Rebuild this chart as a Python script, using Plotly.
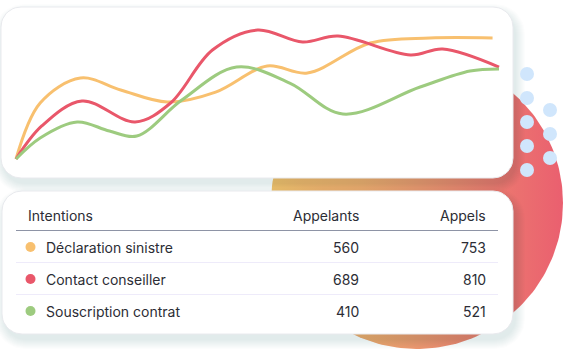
import numpy as np
import plotly.graph_objects as go

W, H = 565, 350

# ---------------- data ----------------
series_names = ["Déclaration sinistre", "Contact conseiller", "Souscription contrat"]
series_colors = ["#F8C06F", "#E9576A", "#9DCB7F"]

decl_x = [0, 1.5, 4.0, 6.5, 9.4, 12.4, 15.6, 18.1, 22.0, 25.7, 29.6]
decl_y = [0, 43.4, 62.8, 53.5, 44.2, 51.9, 72.1, 66.7, 89.9, 93.8, 93.8]
cont_x = [0, 1.6, 4.1, 7.4, 9.6, 12.2, 15.0, 17.8, 20.0, 24.5, 26.5, 30]
cont_y = [0, 25.6, 45.0, 28.7, 43.4, 84.5, 100, 90.7, 95.3, 80.6, 85.3, 71.3]
sous_x = [0, 1.5, 3.8, 5.8, 7.5, 10.3, 13.7, 17.0, 20.3, 25.1, 28.2, 30]
sous_y = [0, 16.3, 28.7, 21.7, 17.8, 45.7, 71.3, 58.9, 34.9, 55.8, 68.2, 69.8]

table_headers = ["Intentions", "Appelants", "Appels"]
appelants = [560, 689, 410]
appels = [753, 810, 521]

# ---------------- helpers ----------------
def rounded_rect(x0, y0, x1, y1, r, n=12):
    xs, ys = [], []
    corners = [(x1 - r, y0 + r, -90, 0), (x1 - r, y1 - r, 0, 90),
               (x0 + r, y1 - r, 90, 180), (x0 + r, y0 + r, 180, 270)]
    for cx, cy, a0, a1 in corners:
        for t in np.linspace(np.radians(a0), np.radians(a1), n):
            xs.append(cx + r * np.cos(t))
            ys.append(cy + r * np.sin(t))
    xs.append(xs[0]); ys.append(ys[0])
    return xs, ys

fig = go.Figure()

# background circle with gradient
t = np.linspace(0, 2 * np.pi, 240)
ccx, ccy, cr = 417, 203, 146
fig.add_trace(go.Scatter(
    x=ccx + cr * np.cos(t), y=ccy + cr * np.sin(t), fill="toself", mode="lines",
    line=dict(width=0), hoverinfo="skip", zorder=0,
    fillgradient=dict(type="horizontal",
                      colorscale=[[0, "#F6C66E"], [0.5, "#EE9770"], [1, "#EA5F6F"]]),
))

# decorative dots
dots_x = [527, 527, 527, 527, 527, 550, 550, 550]
dots_y = [74, 98, 122, 146, 170, 110, 134, 158]
fig.add_trace(go.Scatter(x=dots_x, y=dots_y, mode="markers",
                         marker=dict(size=14, color="#D0E6FC", line=dict(width=0)),
                         hoverinfo="skip", zorder=5))

# cards (shadow + white body)
cards = [(1, 7, 513, 178), (2, 191, 513, 334)]
for (x0, y0, x1, y1) in cards:
    for k in range(1, 11):
        sx, sy = rounded_rect(x0 - k + 3, y0 - k + 7, x1 + k + 2, y1 + k + 5, 20 + k)
        fig.add_trace(go.Scatter(x=sx, y=sy, fill="toself", mode="lines",
                                 line=dict(width=0), fillcolor="rgba(40,50,100,0.011)",
                                 hoverinfo="skip", zorder=1))
for (x0, y0, x1, y1) in cards:
    bx, by = rounded_rect(x0, y0, x1, y1, 20)
    fig.add_trace(go.Scatter(x=bx, y=by, fill="toself", mode="lines",
                             line=dict(width=1, color="#E9EAEE"), fillcolor="white",
                             hoverinfo="skip", zorder=2))

# line chart on its own axes
for xs, ys, name, col in zip([decl_x, cont_x, sous_x], [decl_y, cont_y, sous_y],
                             series_names, series_colors):
    fig.add_trace(go.Scatter(x=xs, y=ys, mode="lines", name=name,
                             line=dict(color=col, width=3, shape="spline", smoothing=1.0),
                             xaxis="x2", yaxis="y2", hoverinfo="skip", zorder=10))

# chart mapping: x value 0 -> px 16, 30 -> px 499 ; y value 0 -> py 159, 100 -> py 30
px0, px1, pv0, pv1 = 16, 499, 0, 30
py0, py1, yv0, yv1 = 159, 30, 0, 100
dom_px = (8, 507)
dom_py = (18, 172)
sx_ = (pv1 - pv0) / (px1 - px0)
sy_ = (yv1 - yv0) / (py0 - py1)
xr = [pv0 + (dom_px[0] - px0) * sx_, pv0 + (dom_px[1] - px0) * sx_]
yr = [yv0 + (py0 - dom_py[1]) * sy_, yv0 + (py0 - dom_py[0]) * sy_]

# table text
font_main = dict(family="Inter, Roboto, sans-serif", size=14, color="#2C2D35")
row_y = [247, 279, 311]
fig.add_annotation(x=26, y=215, text=table_headers[0], showarrow=False, xanchor="left",
                   yanchor="middle", font=font_main, xref="x", yref="y")
fig.add_annotation(x=361, y=215, text=table_headers[1], showarrow=False, xanchor="right",
                   yanchor="middle", font=font_main, xref="x", yref="y")
fig.add_annotation(x=488, y=215, text=table_headers[2], showarrow=False, xanchor="right",
                   yanchor="middle", font=font_main, xref="x", yref="y")
shapes = [dict(type="line", x0=16, x1=498, y0=230.5, y1=230.5, xref="x", yref="y",
               line=dict(color="#8E94A6", width=1), layer="above")]
for i, (nm, col, a, b) in enumerate(zip(series_names, series_colors, appelants, appels)):
    yy = row_y[i]
    fig.add_annotation(x=44, y=yy, text=nm, showarrow=False, xanchor="left",
                       yanchor="middle", font=font_main, xref="x", yref="y")
    fig.add_annotation(x=361, y=yy, text=str(a), showarrow=False, xanchor="right",
                       yanchor="middle", font=font_main, xref="x", yref="y")
    fig.add_annotation(x=488, y=yy, text=str(b), showarrow=False, xanchor="right",
                       yanchor="middle", font=font_main, xref="x", yref="y")
    shapes.append(dict(type="circle", x0=25.5, x1=35.5, y0=yy - 5, y1=yy + 5,
                       xref="x", yref="y", fillcolor=col, line=dict(width=0), layer="above"))
    if i < 2:
        shapes.append(dict(type="line", x0=16, x1=498, y0=yy + 15.5, y1=yy + 15.5,
                           xref="x", yref="y", line=dict(color="#EEEBFA", width=1),
                           layer="above"))

fig.update_layout(
    width=W, height=H, margin=dict(l=0, r=0, t=0, b=0),
    paper_bgcolor="white", plot_bgcolor="rgba(0,0,0,0)", showlegend=False,
    shapes=shapes,
    xaxis=dict(range=[0, W], domain=[0, 1], visible=False, fixedrange=True),
    yaxis=dict(range=[H, 0], domain=[0, 1], visible=False, fixedrange=True),
    xaxis2=dict(range=xr, domain=[dom_px[0] / W, dom_px[1] / W], visible=False,
                anchor="y2", fixedrange=True),
    yaxis2=dict(range=yr, domain=[1 - dom_py[1] / H, 1 - dom_py[0] / H], visible=False,
                anchor="x2", fixedrange=True),
)

fig.write_html("out.html", config=dict(displayModeBar=False))
